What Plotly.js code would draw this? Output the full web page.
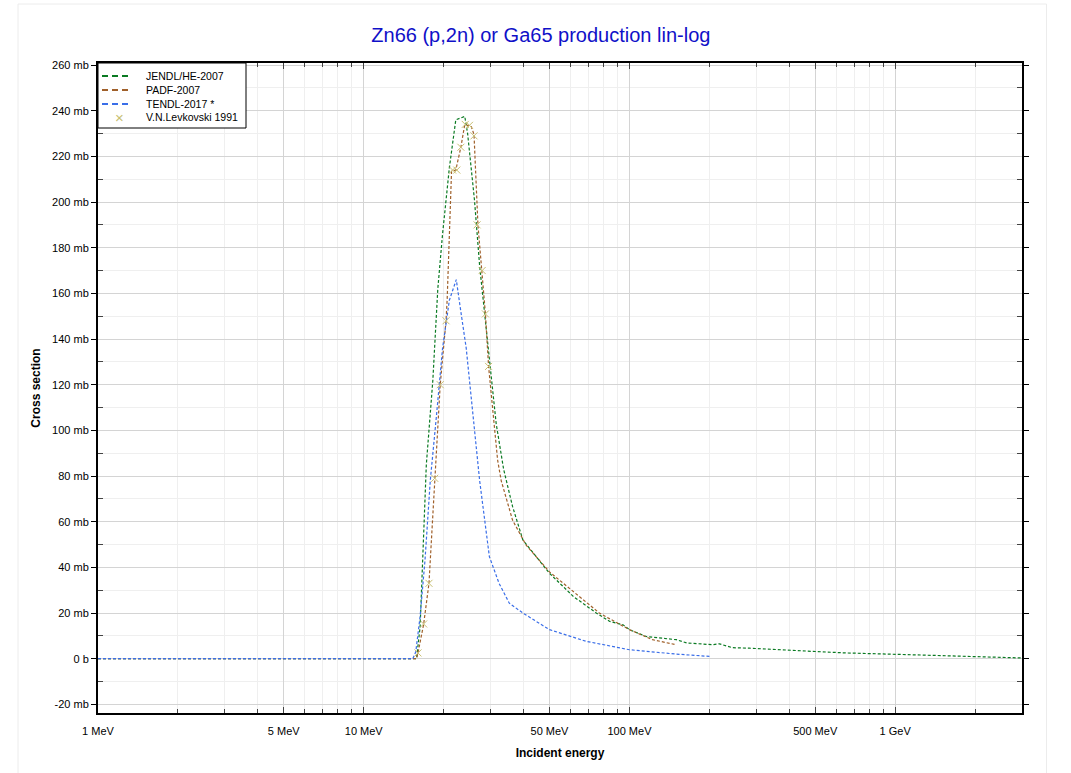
<!DOCTYPE html>
<html>
<head>
<meta charset="utf-8">
<script src="https://cdn.plot.ly/plotly-3.0.1.min.js"></script>
<style>html,body{margin:0;padding:0;background:#fff;}#chart{width:1071px;height:773px;}</style>
</head>
<body>
<div id="chart"></div>
<script>
// JENDL/HE-2007
const jendlE = [1, 15.8, 16.3, 17.2, 18.2, 19.0, 19.8, 21.0, 22.2, 24.0, 24.6, 26.1, 27.3, 27.7, 29.8, 31.5, 33.6, 36.3, 39.7, 50, 61.4, 75, 84.3, 94.3, 100, 115.6, 150, 164, 205, 218, 244, 282, 488, 653, 1160, 3000];
const jendlV = [0, 0, 14, 85, 122, 162, 186, 215, 236, 237.5, 230, 201, 172, 165, 128, 103, 83, 66.7, 52, 37.4, 27.3, 20, 16.3, 14.9, 12.7, 9.7, 8.3, 6.9, 6.1, 6.5, 4.8, 4.6, 3.2, 2.5, 1.7, 0.3];
// PADF-2007
const padfE = [1, 15.8, 16.0, 16.8, 17.6, 18.5, 19.4, 20.4, 20.6, 21.4, 22.2, 23.2, 24.0, 25.4, 26.0, 26.9, 27.9, 28.7, 29.5, 31.9, 32.9, 36.3, 40.8, 50, 77, 100, 122, 150];
const padfV = [0, 0, 2.5, 15, 33, 79, 120, 148, 157, 213.5, 214, 224, 234, 233, 229.6, 190, 170, 151, 128, 87, 78, 60.7, 49.8, 38, 20, 12.7, 8.3, 6.1];
// TENDL-2017
const tendlE = [1, 15.3, 15.7, 16.3, 17.0, 17.8, 18.8, 19.8, 21.0, 22.3, 23.0, 24.3, 27.3, 29.7, 32.3, 35.3, 39.7, 50, 68.7, 100, 150, 200];
const tendlV = [0, 0, 3, 18.5, 43, 78, 107, 136, 157, 166, 155, 136, 78, 44.7, 33, 24.3, 20, 12.7, 7.6, 3.9, 2.0, 1.0];
// V.N.Levkovski 1991
const levE = [16.0, 16.8, 17.6, 18.5, 19.4, 20.4, 21.6, 22.4, 23.2, 24.1, 25.0, 26.0, 26.7, 27.9, 28.7, 29.5];
const levV = [2.5, 15.2, 33, 79, 120, 148, 214, 214, 224, 234, 233.6, 229, 190, 170, 151, 128];

const seriesNames = ['JENDL/HE-2007', 'PADF-2007', 'TENDL-2017 *', 'V.N.Levkovski 1991'];
const seriesColors = ['#0a7a22', '#a0602a', '#3a6ee8', '#c8bf72'];

const xTickVals = [1, 5, 10, 50, 100, 500, 1000];
const xTickText = ['1 MeV', '5 MeV', '10 MeV', '50 MeV', '100 MeV', '500 MeV', '1 GeV'];
const xMinorVals = [2,3,4,6,7,8,9,20,30,40,60,70,80,90,200,300,400,600,700,800,900,2000,3000];
const yTickVals = [-20, 0, 20, 40, 60, 80, 100, 120, 140, 160, 180, 200, 220, 240, 260];
const yTickText = ['-20 mb', '0 b', '20 mb', '40 mb', '60 mb', '80 mb', '100 mb', '120 mb', '140 mb', '160 mb', '180 mb', '200 mb', '220 mb', '240 mb', '260 mb'];
const yMinorVals = [-10, 10, 30, 50, 70, 90, 110, 130, 150, 170, 190, 210, 230, 250];

const dash = '3px,2px';
const traces = [
  {x: jendlE, y: jendlV, name: seriesNames[0], mode: 'lines', line: {color: seriesColors[0], width: 1.2, dash: dash}},
  {x: padfE, y: padfV, name: seriesNames[1], mode: 'lines', line: {color: seriesColors[1], width: 1.2, dash: dash}},
  {x: tendlE, y: tendlV, name: seriesNames[2], mode: 'lines', line: {color: seriesColors[2], width: 1.2, dash: dash}},
  {x: levE, y: levV, name: seriesNames[3], mode: 'markers',
   marker: {symbol: 'x-thin', size: 7, color: seriesColors[3], line: {color: seriesColors[3], width: 1}}}
];

const W = 1071, H = 773, L = 98, R = 49, T = 63, B = 60;
const pw = W - L - R, ph = H - T - B;
const fx = px => (px - L) / pw;
const fy = py => (H - B - py) / ph;

// manual legend (compact, like the reference)
const shapes = [
  {type: 'rect', xref: 'paper', yref: 'paper', x0: fx(18), x1: fx(1046.5), y0: fy(776), y1: fy(4),
   line: {color: '#ececec', width: 1}, fillcolor: 'rgba(0,0,0,0)', layer: 'below'},
  {type: 'rect', xref: 'paper', yref: 'paper', x0: fx(98), x1: fx(246), y0: fy(128), y1: fy(63),
   line: {color: '#000', width: 1}, fillcolor: '#ffffff', layer: 'above'}
];
const annotations = [];
const rowY = [76, 90, 104, 117.5];
seriesNames.forEach((nm, i) => {
  if (i < 3) {
    shapes.push({type: 'line', xref: 'paper', yref: 'paper', x0: fx(102), x1: fx(131), y0: fy(rowY[i]), y1: fy(rowY[i]),
                 line: {color: seriesColors[i], width: 1.8, dash: '6px,4px'}, layer: 'above'});
  } else {
    annotations.push({xref: 'paper', yref: 'paper', x: fx(119), y: fy(rowY[i]), text: '\u00d7', showarrow: false,
                      font: {size: 15, color: seriesColors[i]}, xanchor: 'center', yanchor: 'middle'});
  }
  annotations.push({xref: 'paper', yref: 'paper', x: fx(144), y: fy(rowY[i]), text: nm, showarrow: false,
                    font: {size: 10.5, color: '#000'}, xanchor: 'left', yanchor: 'middle'});
});

const layout = {
  width: W, height: H,
  margin: {l: L, r: R, t: T, b: B, pad: 0},
  paper_bgcolor: '#ffffff', plot_bgcolor: '#ffffff',
  font: {family: 'Liberation Sans, Arial, sans-serif', size: 11, color: '#000'},
  title: {text: 'Zn66 (p,2n) or Ga65 production lin-log', font: {size: 20, color: '#1010c8'},
          x: 0.505, xref: 'container', y: 0.955, yref: 'container', xanchor: 'center', yanchor: 'middle'},
  showlegend: false,
  xaxis: {
    type: 'log', range: [0, Math.log10(3000)],
    tickmode: 'array', tickvals: xTickVals, ticktext: xTickText,
    ticks: 'inside', ticklen: 6, tickcolor: '#444', ticklabelstandoff: 7,
    showgrid: true, gridcolor: '#d4d4d4', gridwidth: 1,
    minor: {tickmode: 'array', tickvals: xMinorVals, ticks: 'inside', ticklen: 4, tickcolor: '#444',
            showgrid: true, gridcolor: '#efefef', gridwidth: 1},
    showline: true, linecolor: '#000', linewidth: 2, mirror: 'ticks',
    zeroline: false,
    title: {text: 'Incident energy', font: {size: 12, weight: 'bold'}, standoff: 12}
  },
  yaxis: {
    range: [-23.8, 260.9],
    tickmode: 'array', tickvals: yTickVals, ticktext: yTickText,
    ticks: 'outside', ticklen: 5, tickcolor: '#000',
    showgrid: true, gridcolor: '#d4d4d4', gridwidth: 1,
    minor: {tickmode: 'array', tickvals: yMinorVals, ticks: 'inside', ticklen: 5, tickcolor: '#444',
            showgrid: true, gridcolor: '#efefef', gridwidth: 1},
    showline: true, linecolor: '#000', linewidth: 2, mirror: 'ticks',
    zeroline: false,
    title: {text: 'Cross section', font: {size: 12, weight: 'bold'}, standoff: 9}
  },
  shapes: shapes,
  annotations: annotations
};

Plotly.newPlot('chart', traces, layout, {displayModeBar: false, staticPlot: true});
</script>
</body>
</html>
